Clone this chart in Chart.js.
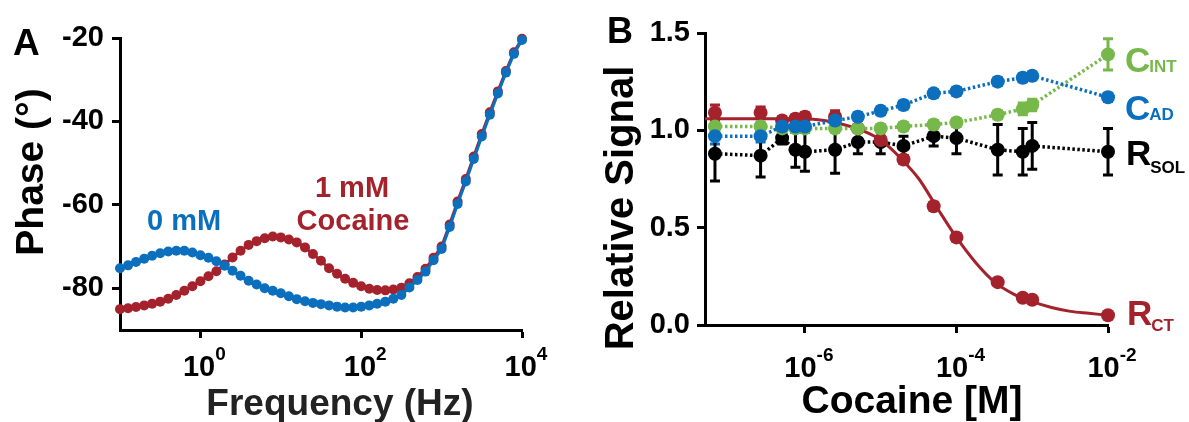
<!DOCTYPE html>
<html>
<head>
<meta charset="utf-8">
<script src="https://cdn.jsdelivr.net/npm/chart.js@4/dist/chart.umd.min.js"></script>
<style>
html, body { margin: 0; padding: 0; background: #fff; }
#wrap { position: relative; width: 1189px; height: 422px; overflow: hidden; }
#chartA { position: absolute; left: 0; top: 0; }
#chartB { position: absolute; left: 590px; top: 0; }
</style>
</head>
<body>
<div id="wrap">
  <canvas id="chartA" width="590" height="422"></canvas>
  <canvas id="chartB" width="599" height="422"></canvas>
</div>
<script>
'use strict';

// ---- panel A: phase vs frequency ----
const freq = [0.1, 0.126, 0.158, 0.2, 0.251, 0.316, 0.398, 0.501, 0.631, 0.794,
  1, 1.26, 1.58, 2, 2.51, 3.16, 3.98, 5.01, 6.31, 7.94,
  10, 12.6, 15.8, 20, 25.1, 31.6, 39.8, 50.1, 63.1, 79.4,
  100, 126, 158, 200, 251, 316, 398, 501, 631, 794,
  1000, 1260, 1580, 2000, 2510, 3160, 3980, 5010, 6310, 7940, 10000];
const phase0mM = [-75.2, -74.5, -73.7, -72.9, -72.2, -71.6, -71.2, -71.0, -71.0, -71.4,
  -72.1, -72.7, -73.5, -74.6, -75.8, -77.0, -78.2, -79.1, -80.0, -80.6,
  -81.2, -81.9, -82.6, -83.1, -83.5, -83.8, -84.1, -84.4, -84.6, -84.6,
  -84.4, -84.1, -83.7, -83.2, -82.5, -81.6, -79.8, -78.0, -76.0, -73.3,
  -70.6, -65.3, -59.8, -54.4, -49.0, -43.6, -38.4, -33.3, -28.3, -23.8, -20.5];
const phase1mM = [-85.0, -84.8, -84.5, -84.1, -83.7, -83.2, -82.5, -81.6, -80.6, -79.5,
  -78.3, -77.1, -75.9, -74.3, -72.6, -71.0, -69.6, -68.7, -68.0, -67.6,
  -67.8, -68.3, -69.0, -70.2, -71.8, -73.4, -75.2, -76.5, -77.7, -78.7,
  -79.5, -80.1, -80.4, -80.5, -80.3, -79.9, -78.8, -77.3, -75.3, -72.7,
  -70.0, -64.7, -59.2, -53.8, -48.4, -43.0, -37.8, -32.8, -27.9, -23.4, -20.2];
const phaseTicks = [-20, -40, -60, -80];
const freqTicks = [1, 100, 10000];
const freqTickExp = ['0', '2', '4'];

// ---- panel B: relative signal vs cocaine concentration ----
const cocaine = [6.5e-8, 2.6e-7, 5e-7, 7.5e-7, 1e-6, 2.5e-6, 5e-6, 1e-5, 2e-5, 5e-5, 1e-4, 3.5e-4, 7.5e-4, 1e-3, 1e-2];
const rct     = [1.09, 1.09, 1.05, 1.06, 1.07, 1.07, 1.01, 0.95, 0.85, 0.61, 0.45, 0.22, 0.14, 0.13, 0.05];
const rctErr  = [0.04, 0.03, 0.02, 0.02, 0.02, 0.03, 0.02, 0.02, 0.02, 0.02, 0.02, 0.01, 0.01, 0.01, 0.01];
const cad     = [0.97, 0.97, 1.02, 1.02, 1.02, 1.05, 1.07, 1.10, 1.13, 1.19, 1.20, 1.25, 1.27, 1.28, 1.17];
const cadErr  = [0.04, 0.03, 0.02, 0.02, 0.02, 0.02, 0.02, 0.02, 0.02, 0.02, 0.02, 0.02, 0.02, 0.02, 0.02];
const cint    = [1.02, 1.02, 1.01, 1.01, 1.01, 1.01, 1.01, 1.01, 1.02, 1.03, 1.04, 1.08, 1.11, 1.13, 1.39];
const cintErr = [0.02, 0.02, 0.02, 0.02, 0.02, 0.02, 0.02, 0.02, 0.02, 0.02, 0.02, 0.02, 0.03, 0.03, 0.08];
const rsol    = [0.88, 0.87, 0.96, 0.90, 0.89, 0.90, 0.94, 0.94, 0.92, 0.97, 0.96, 0.90, 0.89, 0.92, 0.89];
const rsolErr = [0.14, 0.11, 0.03, 0.09, 0.10, 0.12, 0.06, 0.06, 0.05, 0.05, 0.08, 0.13, 0.12, 0.12, 0.12];
const fitConc = [4.8e-8, 1e-7, 3.2e-7, 1e-6, 1.8e-6, 3.2e-6, 5.6e-6, 1e-5, 1.8e-5, 3.2e-5,
  5.6e-5, 1e-4, 1.8e-4, 3.2e-4, 5.6e-4, 1e-3, 1.8e-3, 3.2e-3, 5.6e-3, 1e-2];
const fitRct  = [1.06, 1.06, 1.06, 1.06, 1.05, 1.03, 1.00, 0.95, 0.86, 0.75,
  0.60, 0.45, 0.32, 0.22, 0.16, 0.12, 0.09, 0.07, 0.06, 0.05];
const signalTicks = [0, 0.5, 1.0, 1.5];
const signalTickLabels = ['0.0', '0.5', '1.0', '1.5'];
const concTicks = [1e-6, 1e-4, 1e-2];
const concTickExp = ['-6', '-4', '-2'];

const BLUE = '#0b6fbe';
const RED = '#a4222c';
const GREEN = '#77b84a';
const FONT = "'Liberation Sans', Arial, sans-serif";

function pts(xs, ys) {
    return xs.map((x, i) => ({ x: x, y: ys[i] }));
}

function text(ctx, s, x, y, size, color, align, rotate) {
    ctx.save();
    ctx.font = 'bold ' + size + 'px ' + FONT;
    ctx.fillStyle = color;
    ctx.textAlign = align || 'left';
    ctx.textBaseline = 'alphabetic';
    ctx.translate(x, y);
    if (rotate) ctx.rotate(-Math.PI / 2);
    ctx.fillText(s, 0, 0);
    ctx.restore();
}

function textMid(ctx, s, x, y, size, color) {
    ctx.save();
    ctx.font = 'bold ' + size + 'px ' + FONT;
    ctx.fillStyle = color;
    ctx.textAlign = 'right';
    ctx.textBaseline = 'middle';
    ctx.fillText(s, x, y);
    ctx.restore();
}

// "10" with a raised exponent, centred on the tick
function powerLabel(ctx, px, exp, base) {
    ctx.save();
    ctx.font = 'bold 29px ' + FONT;
    const w10 = ctx.measureText('10').width;
    ctx.font = 'bold 19px ' + FONT;
    const wExp = ctx.measureText(exp).width;
    const left = px + 4 - (w10 + wExp) / 2;
    ctx.restore();
    text(ctx, '10', left, base, 29, '#000');
    text(ctx, exp, left + w10, base - 16, 19, '#000');
}

const errorBars = {
    id: 'errorBars',
    beforeDatasetsDraw(chart) {
        const ctx = chart.ctx;
        const xs = chart.scales.x, ys = chart.scales.y;
        chart.data.datasets.forEach(ds => {
            if (!ds.errors) return;
            ctx.save();
            ctx.strokeStyle = ds.borderColor;
            ctx.lineWidth = 3;
            ds.data.forEach((p, i) => {
                const e = ds.errors[i];
                if (!e) return;
                const px = xs.getPixelForValue(p.x);
                const top = ys.getPixelForValue(p.y + e);
                const bot = ys.getPixelForValue(p.y - e);
                ctx.beginPath();
                ctx.moveTo(px, top); ctx.lineTo(px, bot);
                ctx.moveTo(px - 5, top); ctx.lineTo(px + 5, top);
                ctx.moveTo(px - 5, bot); ctx.lineTo(px + 5, bot);
                ctx.stroke();
            });
            ctx.restore();
        });
    }
};

const axisLine = { display: true, width: 3, color: '#000' };
const tickMarks = { drawOnChartArea: false, drawTicks: true, tickLength: 8, tickWidth: 3, color: '#000' };

// ---- chart A ----
const decorA = {
    id: 'decorA',
    afterDraw(chart) {
        const ctx = chart.ctx;
        const xs = chart.scales.x, ys = chart.scales.y;
        phaseTicks.forEach(v => textMid(ctx, String(v), 104, ys.getPixelForValue(v), 29, '#000'));
        freqTicks.forEach((v, i) => powerLabel(ctx, xs.getPixelForValue(v), freqTickExp[i], 376));
        text(ctx, 'Frequency (Hz)', 340, 415, 37, '#222', 'center');
        text(ctx, 'Phase (°)', 43, 172, 39, '#000', 'center', true);
        text(ctx, 'A', 13, 55, 37, '#000');
        text(ctx, '0 mM', 147, 230, 29, BLUE);
        text(ctx, '1 mM', 352, 197, 29, RED, 'center');
        text(ctx, 'Cocaine', 353, 230, 29, RED, 'center');
    }
};

new Chart(document.getElementById('chartA'), {
    type: 'scatter',
    data: {
        datasets: [{
            label: '0 mM',
            data: pts(freq, phase0mM),
            showLine: true,
            borderColor: BLUE,
            backgroundColor: BLUE,
            borderWidth: 3,
            pointRadius: 5,
            pointBorderWidth: 0,
            clip: false
        }, {
            label: '1 mM Cocaine',
            data: pts(freq, phase1mM),
            showLine: true,
            borderColor: RED,
            backgroundColor: RED,
            borderWidth: 3,
            pointRadius: 5,
            pointBorderWidth: 0,
            clip: false
        }]
    },
    options: {
        responsive: false,
        animation: false,
        layout: { padding: { left: 0, right: 68, top: 38, bottom: 0 } },
        plugins: { legend: { display: false }, tooltip: { enabled: false } },
        scales: {
            x: {
                type: 'logarithmic',
                min: 0.1,
                max: 10000,
                afterBuildTicks: s => { s.ticks = freqTicks.map(v => ({ value: v })); },
                afterFit: s => { s.height = 92; },
                grid: tickMarks,
                border: axisLine,
                ticks: { display: false }
            },
            y: {
                min: -90,
                max: -20,
                afterBuildTicks: s => { s.ticks = phaseTicks.map(v => ({ value: v })); },
                afterFit: s => { s.width = 120; },
                grid: tickMarks,
                border: axisLine,
                ticks: { display: false }
            }
        }
    },
    plugins: [decorA]
});

// ---- chart B ----
function subLabel(ctx, main, sub, x, y, subY, color) {
    ctx.save();
    ctx.font = 'bold 35px ' + FONT;
    const w = ctx.measureText(main).width;
    ctx.restore();
    text(ctx, main, x, y, 35, color);
    text(ctx, sub, x + w - 1, subY, 17, color);
}

const decorB = {
    id: 'decorB',
    afterDraw(chart) {
        const ctx = chart.ctx;
        const xs = chart.scales.x, ys = chart.scales.y;
        signalTicks.forEach((v, i) => textMid(ctx, signalTickLabels[i], 100, ys.getPixelForValue(v), 29, '#000'));
        concTicks.forEach((v, i) => powerLabel(ctx, xs.getPixelForValue(v), concTickExp[i], 377));
        text(ctx, 'Cocaine [M]', 322, 413, 39, '#000', 'center');
        text(ctx, 'Relative Signal', 43, 208, 40, '#000', 'center', true);
        text(ctx, 'B', 17, 43, 36, '#000');
        subLabel(ctx, 'C', 'INT', 535, 72, 72, GREEN);
        subLabel(ctx, 'C', 'AD', 535, 120, 120, BLUE);
        subLabel(ctx, 'R', 'SOL', 536, 165, 173, '#000');
        subLabel(ctx, 'R', 'CT', 537, 325, 331, RED);
    }
};

const dotted = {
    showLine: true,
    borderWidth: 3.5,
    borderDash: [2.5, 2.5],
    pointRadius: 7,
    pointBorderWidth: 0,
    clip: false
};

new Chart(document.getElementById('chartB'), {
    type: 'scatter',
    data: {
        datasets: [
            Object.assign({ label: 'CAD', data: pts(cocaine, cad), errors: cadErr, borderColor: BLUE, backgroundColor: BLUE }, dotted),
            Object.assign({ label: 'CINT', data: pts(cocaine, cint), errors: cintErr, borderColor: GREEN, backgroundColor: GREEN }, dotted),
            {
                label: 'RCT', data: pts(cocaine, rct), errors: rctErr,
                borderColor: RED, backgroundColor: RED,
                showLine: false, pointRadius: 7, pointBorderWidth: 0, clip: false
            },
            {
                label: 'RCT fit', data: pts(fitConc, fitRct),
                borderColor: RED, backgroundColor: RED,
                showLine: true, borderWidth: 3, pointRadius: 0,
                cubicInterpolationMode: 'monotone', clip: false
            },
            Object.assign({ label: 'RSOL', data: pts(cocaine, rsol), errors: rsolErr, borderColor: '#000', backgroundColor: '#000' }, dotted)
        ]
    },
    options: {
        responsive: false,
        animation: false,
        layout: { padding: { left: 0, right: 81, top: 33, bottom: 0 } },
        plugins: { legend: { display: false }, tooltip: { enabled: false } },
        scales: {
            x: {
                type: 'logarithmic',
                min: 4.8e-8,
                max: 1e-2,
                afterBuildTicks: s => { s.ticks = concTicks.map(v => ({ value: v })); },
                afterFit: s => { s.height = 97; },
                grid: tickMarks,
                border: axisLine,
                ticks: { display: false }
            },
            y: {
                min: 0,
                max: 1.5,
                afterBuildTicks: s => { s.ticks = signalTicks.map(v => ({ value: v })); },
                afterFit: s => { s.width = 115; },
                grid: tickMarks,
                border: axisLine,
                ticks: { display: false }
            }
        }
    },
    plugins: [errorBars, decorB]
});
</script>
</body>
</html>
